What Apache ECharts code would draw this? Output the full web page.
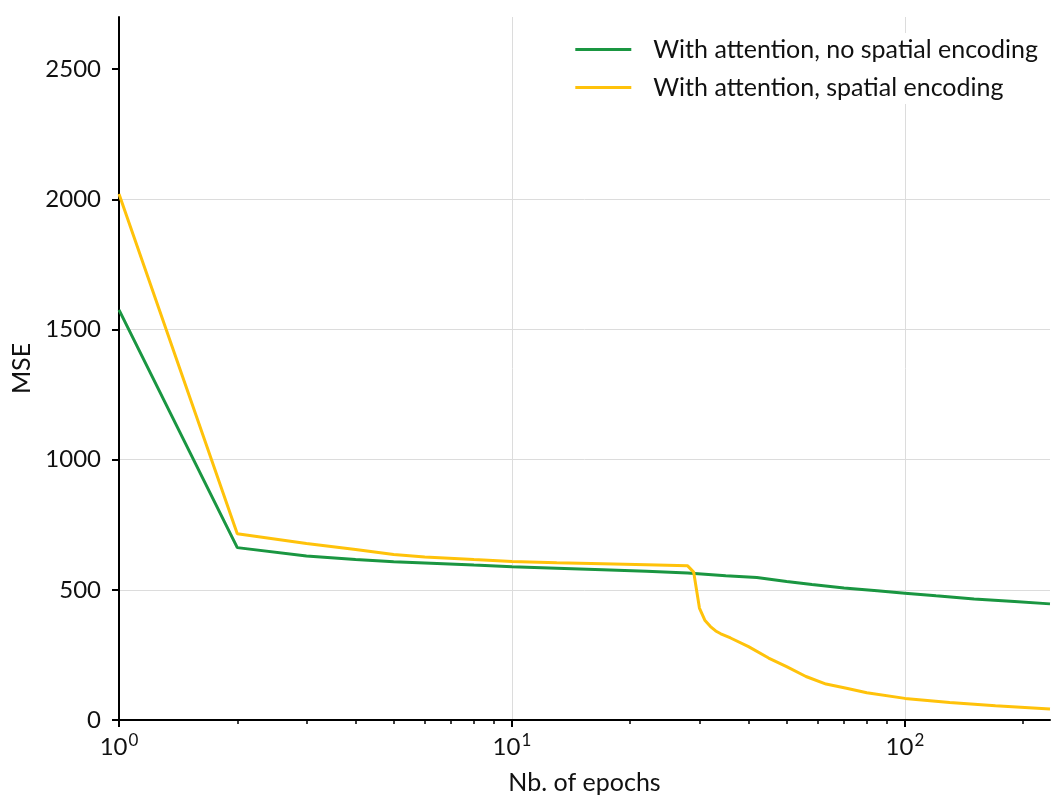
<!DOCTYPE html>
<html>
<head>
<meta charset="utf-8">
<script src="https://cdn.jsdelivr.net/npm/echarts@6/dist/echarts.min.js"></script>
<style>
  html, body { margin: 0; padding: 0; background: #fff; }
  #chart { width: 1051px; height: 796px; }
</style>
</head>
<body>
<div id="chart"></div>
<script>
    // data
    var seriesNames = ['With attention, no spatial encoding', 'With attention, spatial encoding'];
    var seriesColors = ['#1a9641', '#ffc20a'];

    var epochsNoEnc = [1, 2, 3, 4, 5, 6, 8, 10, 13, 17, 22, 28, 35, 42, 50, 58, 70, 85, 100, 120, 150, 190, 234];
    var mseNoEnc = [1575, 662, 630, 616, 608, 603, 595, 589, 583, 577, 571, 565, 554, 547, 532, 520, 507, 496, 487, 477, 465, 455, 446];

    var epochsEnc = [1, 2, 3, 4, 5, 6, 8, 10, 13, 17, 22, 28, 29, 30, 31, 32, 33, 34, 36, 40, 45, 50, 56, 63, 71, 80, 100, 130, 170, 234];
    var mseEnc = [2020, 715, 678, 655, 636, 626, 616, 609, 604, 600, 596, 592, 568, 430, 382, 359, 342, 331, 315, 282, 238, 205, 167, 138, 122, 105, 83, 67, 55, 42];

    var xMajorTicks = [1, 10, 100];
    var xMinorTicks = [2, 3, 4, 5, 6, 7, 8, 9, 20, 30, 40, 50, 60, 70, 80, 90, 200];
    var yTicks = [0, 500, 1000, 1500, 2000, 2500];

    function pairs(xs, ys) {
        var out = [];
        for (var i = 0; i < xs.length; i++) {
            out.push([xs[i], ys[i]]);
        }
        return out;
    }

    var fontFamily = 'Lato, "DejaVu Sans", sans-serif';

    var myChart = echarts.init(document.getElementById('chart'), null, {renderer: 'canvas'});
    var option = {
        backgroundColor: '#fff',
        animation: false,
        textStyle: {fontFamily: fontFamily, color: '#000'},
        grid: {left: 119, right: 1, top: 17, bottom: 76, containLabel: false, outerBoundsMode: 'none'},
        legend: {
            orient: 'vertical',
            right: 5,
            top: 33,
            backgroundColor: '#fff',
            padding: [4, 8, 4, 12],
            itemWidth: 56,
            itemHeight: 3,
            itemGap: 13,
            icon: 'rect',
            textStyle: {fontFamily: fontFamily, fontSize: 25, color: '#111', padding: [0, 0, 0, 17]},
            data: seriesNames
        },
        xAxis: [{
            type: 'log',
            logBase: 10,
            min: 1,
            max: 234,
            name: 'Nb. of epochs',
            nameLocation: 'middle',
            nameGap: 50,
            nameTextStyle: {fontFamily: fontFamily, fontSize: 25, color: '#111'},
            axisLine: {lineStyle: {color: '#000', width: 2}},
            axisTick: {show: true, length: 7, lineStyle: {color: '#000', width: 2}, customValues: xMajorTicks},
            minorTick: {show: false},
            axisLabel: {
                customValues: xMajorTicks,
                margin: 12,
                formatter: function (v) {
                    var e = Math.round(Math.log10(v));
                    return '{b|10}{s|' + e + '}';
                },
                rich: {
                    b: {fontFamily: fontFamily, fontSize: 24, color: '#111'},
                    s: {fontFamily: fontFamily, fontSize: 17, color: '#111', padding: [0, 0, 13, 1]}
                }
            },
            splitLine: {show: true, showMinLine: false, showMaxLine: true, lineStyle: {color: '#dcdcdc', width: 1}}
        }, {
            type: 'log',
            logBase: 10,
            min: 1,
            max: 234,
            position: 'bottom',
            axisLine: {show: false},
            axisTick: {show: true, length: 4, lineStyle: {color: '#000', width: 1.5}, customValues: xMinorTicks},
            axisLabel: {show: false},
            splitLine: {show: false}
        }],
        yAxis: {
            type: 'value',
            min: 0,
            max: 2700,
            interval: 500,
            name: 'MSE',
            nameLocation: 'middle',
            nameRotate: 90,
            nameGap: 83,
            nameTextStyle: {fontFamily: fontFamily, fontSize: 25, color: '#111'},
            axisLine: {show: true, lineStyle: {color: '#000', width: 2}},
            axisTick: {show: true, length: 7, lineStyle: {color: '#000', width: 2}, customValues: yTicks},
            axisLabel: {
                customValues: yTicks,
                margin: 18,
                fontFamily: fontFamily,
                fontSize: 24,
                color: '#111',
                formatter: function (v) {
                    return String(v);
                }
            },
            splitLine: {show: true, showMinLine: false, showMaxLine: false, lineStyle: {color: '#dcdcdc', width: 1}}
        },
        series: [
            {
                name: seriesNames[0],
                type: 'line',
                xAxisIndex: 0,
                data: pairs(epochsNoEnc, mseNoEnc),
                showSymbol: false,
                symbol: 'none',
                lineStyle: {color: seriesColors[0], width: 3},
                itemStyle: {color: seriesColors[0]},
                z: 3
            },
            {
                name: seriesNames[1],
                type: 'line',
                xAxisIndex: 0,
                data: pairs(epochsEnc, mseEnc),
                showSymbol: false,
                symbol: 'none',
                lineStyle: {color: seriesColors[1], width: 3},
                itemStyle: {color: seriesColors[1]},
                z: 4
            }
        ]
    };
    myChart.setOption(option, true);
</script>
</body>
</html>
